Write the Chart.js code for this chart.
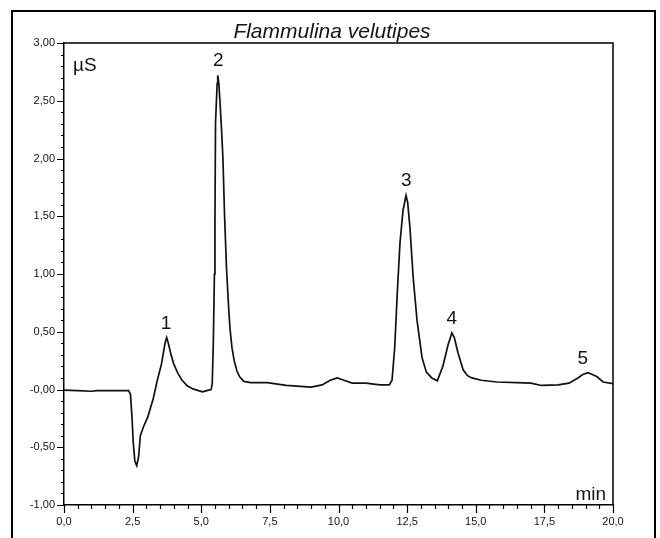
<!DOCTYPE html>
<html>
<head>
<meta charset="utf-8">
<script src="https://cdn.jsdelivr.net/npm/chart.js@4.4.1/dist/chart.umd.min.js"></script>
<style>
  html, body { margin: 0; padding: 0; background: #fff; }
  #wrap { width: 660px; height: 538px; position: relative; }
</style>
</head>
<body>
<div id="wrap"><canvas id="chrom"></canvas></div>
<script>
// Flammulina velutipes chromatogram (conductivity vs retention time)
var times = [
  0.0, 0.5, 1.0, 1.2, 1.5, 1.9, 2.35, 2.42, 2.48, 2.52, 2.58, 2.65, 2.72, 2.78,
  2.9, 3.05, 3.25, 3.4, 3.55, 3.68, 3.74, 3.8, 3.9, 4.0, 4.15, 4.3, 4.5, 4.7,
  4.9, 5.05, 5.2, 5.36, 5.4, 5.44, 5.48, 5.5, 5.52, 5.58, 5.6, 5.64, 5.68, 5.74,
  5.79, 5.85, 5.92, 6.0, 6.05, 6.12, 6.2, 6.3, 6.4, 6.55, 6.8, 7.4, 8.1, 9.0,
  9.4, 9.7, 9.95, 10.2, 10.5, 11.0, 11.5, 11.85, 11.95, 12.05, 12.14, 12.24, 12.35, 12.46,
  12.52, 12.6, 12.72, 12.86, 13.04, 13.2, 13.4, 13.6, 13.8, 13.99, 14.13, 14.22, 14.35, 14.54,
  14.7, 14.86, 15.2, 15.77, 16.5, 17.0, 17.4, 18.0, 18.4, 18.72, 18.9, 19.09, 19.25, 19.42,
  19.64, 20.0
];
var signal = [
  -0.005, -0.01, -0.015, -0.01, -0.01, -0.01, -0.01, -0.04, -0.25, -0.45, -0.62, -0.66, -0.58, -0.40,
  -0.32, -0.24, -0.08, 0.08, 0.22, 0.40, 0.45, 0.40, 0.30, 0.22, 0.14, 0.08, 0.03, 0.005,
  -0.01, -0.02, -0.01, 0.0, 0.05, 0.40, 1.0, 1.5, 2.31, 2.65, 2.72, 2.65, 2.50, 2.25,
  2.00, 1.50, 1.05, 0.70, 0.52, 0.36, 0.25, 0.16, 0.11, 0.07, 0.06, 0.06, 0.035, 0.02,
  0.04, 0.08, 0.10, 0.08, 0.055, 0.055, 0.04, 0.04, 0.08, 0.37, 0.83, 1.27, 1.55, 1.68,
  1.62, 1.41, 0.97, 0.60, 0.28, 0.15, 0.10, 0.075, 0.20, 0.385, 0.49, 0.45, 0.32, 0.17,
  0.12, 0.10, 0.08, 0.065, 0.06, 0.055, 0.035, 0.04, 0.055, 0.10, 0.13, 0.145, 0.13, 0.11,
  0.065, 0.05
];

var peakNames = ['1', '2', '3', '4', '5'];
var peakTimes = [3.72, 5.62, 12.47, 14.13, 18.9];
var peakValues = [0.45, 2.72, 1.68, 0.49, 0.145];

var xTickValues = [0, 2.5, 5, 7.5, 10, 12.5, 15, 17.5, 20];
var xTickLabels = ['0,0', '2,5', '5,0', '7,5', '10,0', '12,5', '15,0', '17,5', '20,0'];
var yTickValues = [-1, -0.5, 0, 0.5, 1, 1.5, 2, 2.5, 3];
var yTickLabels = ['-1,00', '-0,50', '-0,00', '0,50', '1,00', '1,50', '2,00', '2,50', '3,00'];

var points = times.map(function (t, i) { return { x: t, y: signal[i] }; });

var inkColor = '#141414';
var labelFont = '19px "Liberation Sans", Arial, sans-serif';

function pickLabel(values, labels, v) {
  for (var i = 0; i < values.length; i++) {
    if (Math.abs(values[i] - v) < 1e-6) return labels[i];
  }
  return '';
}

var framePlugin = {
  id: 'frame',
  afterDraw: function (chart) {
    var ctx = chart.ctx;
    var a = chart.chartArea;
    var xs = chart.scales.x, ys = chart.scales.y;
    ctx.save();

    // outer box
    ctx.strokeStyle = '#000';
    ctx.lineWidth = 2;
    ctx.strokeRect(12, 11, 643, 600);

    // plot frame top + right
    ctx.lineWidth = 1.5;
    ctx.beginPath();
    ctx.moveTo(a.left, a.top);
    ctx.lineTo(a.right, a.top);
    ctx.lineTo(a.right, a.bottom);
    ctx.stroke();

    // tick marks
    ctx.lineWidth = 1.2;
    ctx.beginPath();
    var i, p, major;
    for (i = 0; i <= 40; i++) {
      p = Math.round(xs.getPixelForValue(i * 0.5)) + 0.5;
      major = i % 5 === 0;
      ctx.moveTo(p, a.bottom);
      ctx.lineTo(p, a.bottom + (major ? 8 : 4));
    }
    for (i = -10; i <= 30; i++) {
      p = Math.round(ys.getPixelForValue(i * 0.1)) + 0.5;
      major = i % 5 === 0;
      ctx.moveTo(a.left, p);
      ctx.lineTo(a.left - (major ? 7 : 3), p);
    }
    ctx.stroke();

    // title
    ctx.fillStyle = inkColor;
    ctx.font = 'italic 21px "Liberation Sans", Arial, sans-serif';
    ctx.textAlign = 'center';
    ctx.textBaseline = 'alphabetic';
    ctx.fillText('Flammulina velutipes', 332, 38);

    // unit labels
    ctx.font = labelFont;
    ctx.textAlign = 'left';
    ctx.fillText('\u00b5S', a.left + 9, 71);
    ctx.textAlign = 'right';
    ctx.fillText('min', a.right - 7, 500);

    // peak numbers
    ctx.textAlign = 'center';
    for (i = 0; i < peakNames.length; i++) {
      var px = xs.getPixelForValue(peakTimes[i]);
      var py = ys.getPixelForValue(peakValues[i]);
      ctx.fillText(peakNames[i], px, py - 9);
    }
    ctx.restore();
  }
};

new Chart(document.getElementById('chrom'), {
  type: 'line',
  data: {
    datasets: [{
      data: points,
      borderColor: '#111',
      borderWidth: 1.7,
      pointRadius: 0,
      tension: 0,
      fill: false
    }]
  },
  options: {
    responsive: true,
    maintainAspectRatio: false,
    animation: false,
    layout: { padding: { left: 0, top: 43, right: 47, bottom: 0 } },
    plugins: { legend: { display: false }, tooltip: { enabled: false }, title: { display: false } },
    scales: {
      x: {
        type: 'linear',
        min: 0,
        max: 20,
        afterFit: function (s) { s.height = 33; },
        afterBuildTicks: function (s) { s.ticks = xTickValues.map(function (v) { return { value: v }; }); },
        grid: { drawOnChartArea: false, drawTicks: false },
        border: { display: true, color: '#000', width: 1.5 },
        ticks: {
          autoSkip: false,
          maxRotation: 0,
          padding: 10,
          color: inkColor,
          font: { family: '"Liberation Sans", Arial, sans-serif', size: 11 },
          callback: function (v) { return pickLabel(xTickValues, xTickLabels, v); }
        }
      },
      y: {
        type: 'linear',
        min: -1,
        max: 3,
        afterFit: function (s) { s.width = 64; },
        afterBuildTicks: function (s) { s.ticks = yTickValues.map(function (v) { return { value: v }; }); },
        grid: { drawOnChartArea: false, drawTicks: false },
        border: { display: true, color: '#000', width: 1.5 },
        ticks: {
          autoSkip: false,
          padding: 9,
          color: inkColor,
          font: { family: '"Liberation Sans", Arial, sans-serif', size: 11 },
          callback: function (v) { return pickLabel(yTickValues, yTickLabels, v); }
        }
      }
    }
  },
  plugins: [framePlugin]
});
</script>
</body>
</html>
